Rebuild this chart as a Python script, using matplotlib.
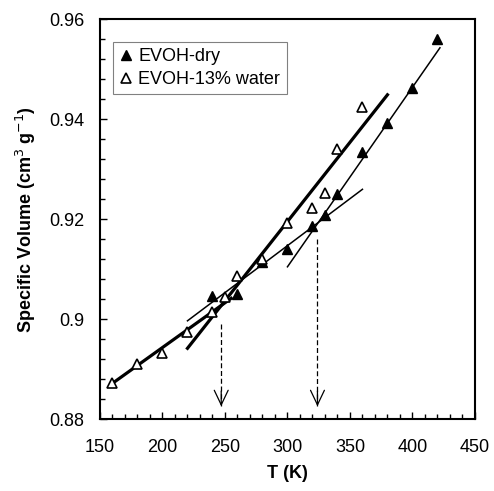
import matplotlib
matplotlib.use('Agg')
import matplotlib.pyplot as plt
from matplotlib.ticker import MultipleLocator, FuncFormatter

plt.rcParams['font.family'] = ['Liberation Sans', 'DejaVu Sans']

# measured points
T_dry = [240, 260, 280, 300, 320, 330, 340, 360, 380, 400, 420]
V_dry = [0.9047, 0.9051, 0.9114, 0.9140, 0.9187, 0.9208, 0.9251, 0.9335, 0.9392, 0.9463, 0.9560]

T_wet = [160, 180, 200, 220, 240, 250, 260, 280, 300, 320, 330, 340, 360]
V_wet = [0.8872, 0.8910, 0.8933, 0.8975, 0.9014, 0.9045, 0.9087, 0.9120, 0.9192, 0.9223, 0.9252, 0.9340, 0.9425]

# fitted lines (end points)
fit_wet_low_T = [160, 255]
fit_wet_low_V = [0.8872, 0.9042]
fit_wet_high_T = [220, 380]
fit_wet_high_V = [0.8942, 0.9449]
fit_dry_low_T = [220, 360]
fit_dry_low_V = [0.8997, 0.9260]
fit_dry_high_T = [300, 422]
fit_dry_high_V = [0.9105, 0.9543]

# Tg arrows
arrow_T = [247, 324]
arrow_top = [0.8991, 0.9160]
arrow_tip = 0.8826

fig = plt.figure(figsize=(4.94, 4.91), dpi=100)
ax = fig.add_axes([0.2024, 0.146, 0.759, 0.8147])

# fit lines
ax.plot(fit_wet_low_T, fit_wet_low_V, color='black', lw=2.3, zorder=2)
ax.plot(fit_wet_high_T, fit_wet_high_V, color='black', lw=2.3, zorder=2)
ax.plot(fit_dry_low_T, fit_dry_low_V, color='black', lw=1.1, zorder=2)
ax.plot(fit_dry_high_T, fit_dry_high_V, color='black', lw=1.1, zorder=2)

# dashed arrows: dashed shaft + solid open head
for t, top in zip(arrow_T, arrow_top):
    ax.plot([t, t], [top, arrow_tip], color='black', lw=0.9, dashes=(4, 2.2), zorder=2)
    ax.annotate('', xy=(t, arrow_tip), xytext=(0, 11), textcoords='offset points',
                arrowprops=dict(arrowstyle='->,head_length=1.05,head_width=0.5',
                                color='black', lw=0.9, shrinkA=0, shrinkB=0))

ax.plot(T_dry, V_dry, linestyle='none', marker='^', ms=7.5, mfc='black', mec='black',
        label='EVOH-dry', zorder=3)
ax.plot(T_wet, V_wet, linestyle='none', marker='^', ms=7.5, mfc='white', mec='black',
        mew=1.2, label='EVOH-13% water', zorder=4)

ax.set_xlim(150, 450)
ax.set_ylim(0.88, 0.96)
ax.xaxis.set_major_locator(MultipleLocator(50))
ax.xaxis.set_minor_locator(MultipleLocator(10))
ax.yaxis.set_major_locator(MultipleLocator(0.02))
ax.yaxis.set_minor_locator(MultipleLocator(0.004))
ax.yaxis.set_major_formatter(FuncFormatter(lambda v, p: '%g' % round(v, 3)))
ax.tick_params(which='both', direction='in', labelsize=13, width=1)
ax.tick_params(which='major', length=5)
ax.tick_params(which='minor', length=3.5)
ax.tick_params(axis='x', which='major', pad=14)
ax.tick_params(axis='y', which='major', pad=11)
for s in ax.spines.values():
    s.set_linewidth(1.5)

ax.set_xlabel('T (K)', fontsize=13, fontweight='bold', labelpad=7)
ax.set_ylabel('Specific Volume (cm$^3$ g$^{-1}$)', fontsize=13, fontweight='bold', labelpad=8)

leg = ax.legend(loc='upper left', bbox_to_anchor=(0.035, 0.943), borderaxespad=0,
                fontsize=13, fancybox=False, edgecolor='#808080', framealpha=1,
                handlelength=0.7, handletextpad=0.35, markerscale=0.95,
                borderpad=0.35, labelspacing=0.3)
leg.get_frame().set_linewidth(0.8)

fig.savefig('out.png', dpi=100)
